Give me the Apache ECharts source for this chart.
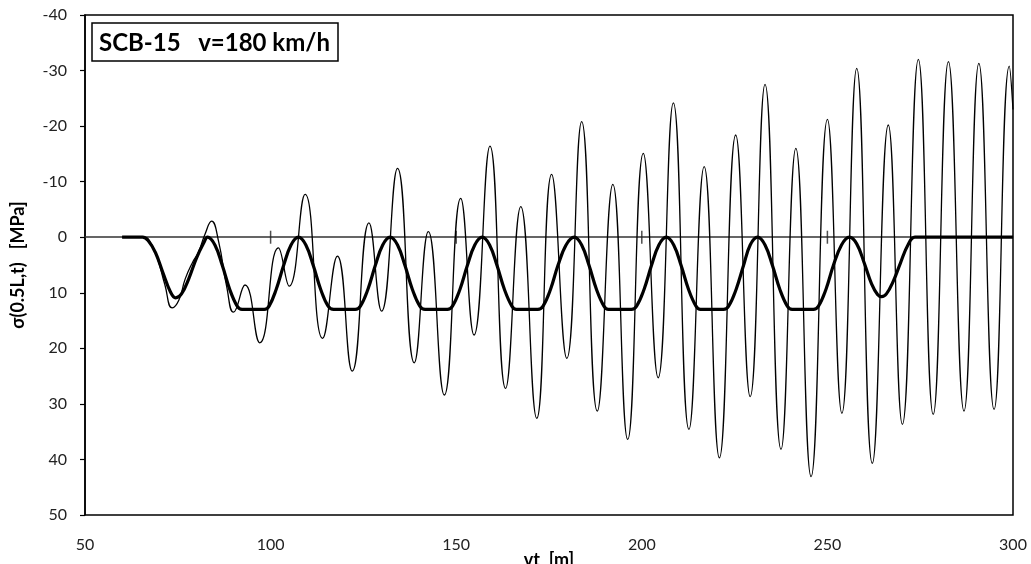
<!DOCTYPE html>
<html>
<head>
<meta charset="utf-8">
<script src="https://cdn.jsdelivr.net/npm/echarts@6/dist/echarts.min.js"></script>
<style>
html,body{margin:0;padding:0;background:#fff;}
#chart{width:1031px;height:564px;}
</style>
</head>
<body>
<div id="chart"></div>
<script>
// ---- data ----
const chartTitle = 'SCB-15   v=180 km/h';
const xAxisName = 'vt  [m]';
const yAxisName = 'σ(0.5L,t)   [MPa]';
const xTicks = { min: 50, max: 300, step: 50 };
const yTicks = { min: -40, max: 50, step: 10 };
const zeroLineTickX = [100, 150, 200, 250];

// dynamic stress (thin line)
const dynX = [60, 66, 67.5, 69.5, 71.5, 73.5, 75.3, 77, 79, 80.5, 82.3, 84.1, 86, 88.2, 90.0,
  93.1, 97.1, 102.1, 105.0, 109.3, 114.0, 118.0, 122.0, 126.5, 129.9, 134.2, 138.7, 142.5,
  146.8, 151.2, 154.8, 159.1, 163.3, 167.4, 171.7, 175.7, 179.8, 183.8, 188.0, 192.2, 196.2,
  200.4, 204.4, 208.5, 212.7, 216.8, 220.9, 225.3, 229.2, 233.2, 237.5, 241.5, 245.6, 250.0,
  253.9, 257.9, 262.1, 266.4, 270.2, 274.5, 278.5, 282.6, 286.8, 290.8, 294.9, 299.0, 300];
const dynY = [0, 0, 0.8, 3.8, 8.5, 12.7, 11.3, 7.5, 4.5, 2.8, -0.5, -2.9, 0.8, 9, 13.5,
  8.6, 19.0, 1.9, 8.8, -7.7, 18.2, 3.4, 24.1, -2.6, 13.3, -12.4, 22.6, -1.0,
  28.4, -7.0, 17.6, -16.4, 27.2, -5.5, 32.6, -11.3, 21.8, -20.8, 31.3, -9.5, 36.4,
  -15.1, 25.3, -24.2, 34.6, -12.7, 39.7, -18.4, 28.7, -27.5, 38.2, -16.0, 43.1, -21.2,
  31.7, -30.4, 40.7, -20.2, 33.7, -32.0, 31.9, -31.6, 31.3, -31.3, 31.0, -30.8, -23];

// static stress (thick line)
const statX = [60, 65.5, 67, 69, 71, 73, 74.4, 76, 78, 80, 82, 83,
  85, 87, 89, 91, 92.3, 98.3, 99.6, 101.5, 103.5, 105.5, 107.5,
  109.5, 111.5, 113.5, 115.5, 117.0, 122.8, 124.2, 126.2, 128.2, 130.2, 132.2,
  134.2, 136.2, 138.2, 140.2, 141.6, 147.6, 149, 151, 153, 155, 157.0,
  159, 161, 163, 165, 166.2, 172.0, 173.4, 175.4, 177.4, 179.6, 181.8,
  183.8, 185.8, 187.8, 189.8, 191.0, 197.2, 198.6, 200.6, 202.6, 204.6, 206.6,
  208.6, 210.6, 212.6, 214.6, 215.8, 222.0, 223.4, 225.4, 227.4, 229.2, 231.2,
  233.2, 235.2, 237.2, 239.2, 240.5, 246.2, 247.6, 249.6, 251.6, 253.8, 255.9,
  257.9, 259.9, 261.9, 263.5, 264.6, 265.9, 267.7, 269.7, 271.7, 273.6, 300];
const statY = [0, 0, 0.6, 2.8, 6.4, 9.8, 10.9, 10.2, 7.4, 3.8, 1.0, 0,
  1.4, 5.1, 9.4, 12.4, 13, 13, 12.4, 9.4, 5.1, 1.4, 0,
  1.4, 5.1, 9.4, 12.4, 13, 13, 12.4, 9.4, 5.1, 1.4, 0,
  1.4, 5.1, 9.4, 12.4, 13, 13, 12.4, 9.4, 5.1, 1.4, 0,
  1.4, 5.1, 9.4, 12.4, 13, 13, 12.4, 9.4, 5.1, 1.4, 0,
  1.4, 5.1, 9.4, 12.4, 13, 13, 12.4, 9.4, 5.1, 1.4, 0,
  1.4, 5.1, 9.4, 12.4, 13, 13, 12.4, 9.4, 5.1, 1.4, 0,
  1.4, 5.1, 9.4, 12.4, 13, 13, 12.4, 9.4, 5.1, 1.4, 0,
  1.2, 4.6, 8.4, 10.3, 10.7, 10.2, 8.0, 4.6, 1.4, 0, 0];

// ---- chart ----
const pairs = (xs, ys) => xs.map((x, i) => [x, ys[i]]);
const FONT = 'Lato';

const chart = echarts.init(document.getElementById('chart'), null, { renderer: 'canvas' });
chart.setOption({
  animation: false,
  backgroundColor: '#fff',
  title: {
    text: chartTitle, left: 92, top: 23,
    padding: [8, 8, 6, 7],
    borderColor: '#000', borderWidth: 1.5,
    textStyle: { fontFamily: FONT, fontWeight: 'bold', fontSize: 24, color: '#000' }
  },
  grid: {
    left: 85, right: 18, top: 15, bottom: 49,
    containLabel: false, outerBoundsMode: 'none',
    show: true, borderColor: '#000', borderWidth: 1.5, backgroundColor: 'transparent'
  },
  xAxis: [
    {
      type: 'value', min: xTicks.min, max: xTicks.max, interval: xTicks.step,
      position: 'bottom',
      axisLine: { show: false, onZero: false },
      axisTick: { show: false },
      splitLine: { show: false },
      axisLabel: { fontFamily: FONT, fontSize: 16, color: '#222', margin: 22 },
      name: xAxisName, nameLocation: 'middle', nameGap: 36, nameMoveOverlap: false,
      nameTextStyle: { fontFamily: FONT, fontWeight: 'bold', fontSize: 18, color: '#000' }
    },
    {
      type: 'value', min: xTicks.min, max: xTicks.max, interval: xTicks.step,
      position: 'bottom',
      axisLine: { show: true, onZero: true, lineStyle: { color: '#333', width: 1.5 } },
      axisTick: { show: false },
      axisLabel: { show: false }, splitLine: { show: false }
    }
  ],
  yAxis: {
    type: 'value', inverse: true, min: yTicks.min, max: yTicks.max, interval: yTicks.step,
    axisLine: { show: true, onZero: false, lineStyle: { color: '#000', width: 1.5 } },
    axisTick: { show: true, inside: false, length: 5, lineStyle: { color: '#000', width: 1.2 } },
    splitLine: { show: false },
    axisLabel: { fontFamily: FONT, fontSize: 16, color: '#222', margin: 18 },
    name: yAxisName, nameLocation: 'middle', nameGap: 58, nameMoveOverlap: false,
    nameTextStyle: { fontFamily: FONT, fontWeight: 'bold', fontSize: 18, color: '#000' }
  },
  series: [
    {
      type: 'scatter', xAxisIndex: 0, data: zeroLineTickX.map(x => [x, 0]),
      symbol: 'rect', symbolSize: [1.5, 13], silent: true, z: 1,
      itemStyle: { color: '#222' }
    },
    {
      type: 'line', xAxisIndex: 0, data: pairs(dynX, dynY),
      smooth: 0.5, showSymbol: false, clip: true,
      lineStyle: { color: '#000', width: 1.3 }
    },
    {
      type: 'line', xAxisIndex: 0, data: pairs(statX, statY),
      smooth: 0.4, showSymbol: false, clip: true,
      lineStyle: { color: '#000', width: 3.2 }
    }
  ]
});
</script>
</body>
</html>
